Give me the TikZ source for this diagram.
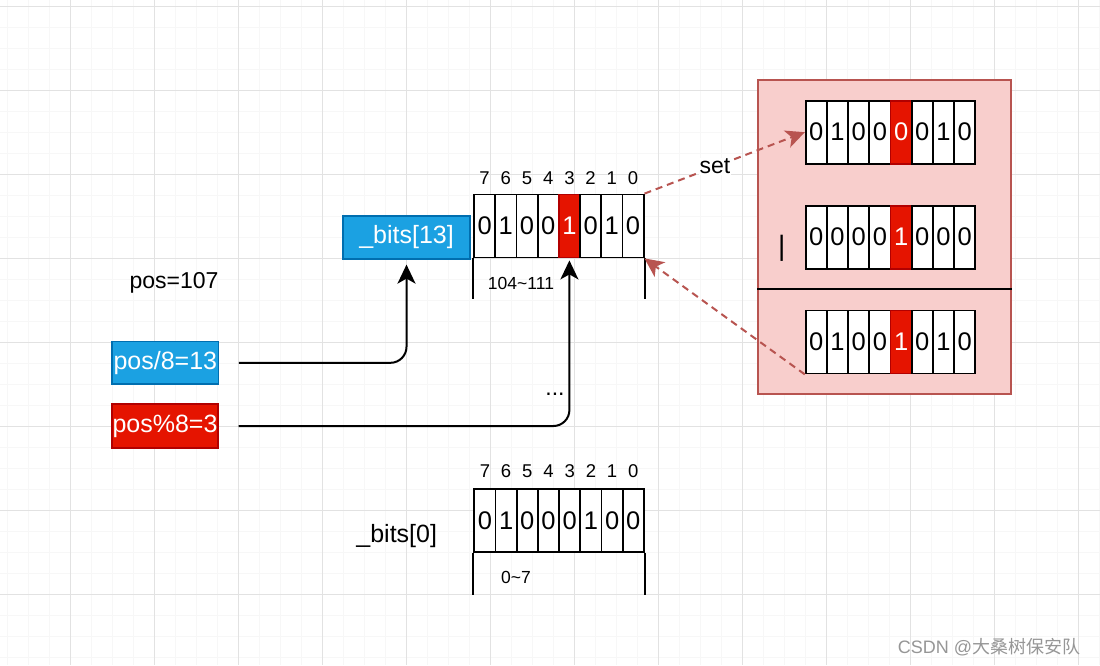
\documentclass[tikz,border=0pt]{standalone}
\usepackage{fontspec}
\setmainfont{Liberation Sans}
\newfontfamily\cjk{Noto Sans CJK SC}
\usetikzlibrary{arrows.meta,positioning}
\definecolor{gridmajor}{RGB}{226,226,226}
\definecolor{gridminor}{RGB}{247,247,247}
\definecolor{bitblue}{HTML}{1BA1E2}
\definecolor{blueline}{HTML}{006EAF}
\definecolor{bitred}{HTML}{E51400}
\definecolor{redline}{HTML}{B20000}
\definecolor{pinkfill}{HTML}{F8CECC}
\definecolor{pinkline}{HTML}{B85450}
\definecolor{markgray}{RGB}{150,150,150}
\tikzset{cell/.style={draw, line width=1.8pt, fill=white, minimum width=21.2pt, minimum height=63pt, inner sep=0pt, font=\fontsize{25.5}{28}\selectfont},
	redcell/.style={cell, fill=bitred, draw=redline, text=white},
	idx/.style={inner sep=0pt, font=\fontsize{18.5}{20}\selectfont},
	bluebox/.style={draw=blueline, fill=bitblue, line width=1.2pt, text=white, inner sep=0pt, font=\fontsize{25}{28}\selectfont},
	redbox/.style={bluebox, draw=redline, fill=bitred},
	plaintxt/.style={inner sep=0pt, font=\fontsize{23}{26}\selectfont},
	rangetxt/.style={inner sep=0pt, font=\fontsize{17.5}{20}\selectfont},
	wire/.style={line width=2pt},
	pointer/.style={line width=2pt, rounded corners=16pt, -{Stealth[length=19pt,width=18pt,inset=5pt]}},
	setlink/.style={pinkline, line width=2pt, dash pattern=on 7pt off 5pt, -{Stealth[length=19pt,width=18pt,inset=5pt]}},
	panel/.style={draw=pinkline, fill=pinkfill, line width=1.8pt, minimum width=252.4pt, minimum height=314pt, inner sep=0pt}}
% #1 name, #2 left x, #3 centre y, #4 red cell, #5 bits
\newcommand{\bitrow}[5]{%
	\foreach \v [count=\i] in {#5}{
		\ifnum\i=#4\relax
		\node[redcell] (#1-\i) at ({#2+21.2*\i-10.6},#3) {\v};
		\else
		\node[cell] (#1-\i) at ({#2+21.2*\i-10.6},#3) {\v};
		\fi
	}}

\begin{document}
\begin{tikzpicture}[x=1pt,y=-1pt]
	\useasboundingbox (0,0) rectangle (1100,665);
	\fill[white] (0,0) rectangle (1100,665);
	% grid
	\foreach \x in {7,28,...,1099} \draw[gridminor,line width=1pt] (\x,0) -- (\x,665);
	\foreach \y in {6,27,...,657} \draw[gridminor,line width=1pt] (0,\y) -- (1100,\y);
	\foreach \x in {70,154,...,1078} \draw[gridmajor,line width=1pt] (\x,0) -- (\x,665);
	\foreach \y in {6,90,...,594} \draw[gridmajor,line width=1pt] (0,\y) -- (1100,\y);
	% right panel
	\node[panel] (panel) at (884.5,237) {};
	\coordinate (split) at (0,289.3);
	\draw[wire] (panel.west |- split) -- (panel.east |- split);
	\node[plaintxt, font=\fontsize{28}{30}\selectfont] (orsign) at (781.7,248) {|};
	% registers
	\bitrow{mid}{474}{226}{5}{0,1,0,0,1,0,1,0}
	\bitrow{low}{474.3}{520.3}{0}{0,1,0,0,0,1,0,0}
	\bitrow{ra}{805.7}{132.2}{5}{0,1,0,0,0,0,1,0}
	\bitrow{rb}{805.7}{237.2}{5}{0,0,0,0,1,0,0,0}
	\bitrow{rc}{805.7}{342}{5}{0,1,0,0,1,0,1,0}
	\foreach \b [count=\i] in {7,6,...,0}{
		\node[idx, above=9pt of mid-\i] (midbit-\i) {\b};
		\node[idx, above=10pt of low-\i] (lowbit-\i) {\b};
	}
	\draw[wire] (mid-1.south west) -- ++(0,41);
	\draw[wire] (mid-8.south east) -- ++(0,41);
	\draw[wire] (low-1.south west) -- ++(0,42);
	\draw[wire] (low-8.south east) -- ++(0,42);
	\node[rangetxt] (midrange) at (521,283.5) {104\textasciitilde111};
	\node[rangetxt] (lowrange) at (516,577.7) {0\textasciitilde7};
	% labels and boxes
	\node[bluebox, minimum width=127pt, minimum height=43pt] (b13) at (406.5,237.5) {\_bits[13]};
	\node[plaintxt, font=\fontsize{25}{28}\selectfont] (b0) at (396.7,536) {\_bits[0]};
	\node[plaintxt] (pos) at (174,283) {pos=107};
	\node[bluebox, minimum width=106.7pt, minimum height=42.3pt] (p8) at (165.3,362.8) {pos/8=13};
	\node[redbox, minimum width=106pt, minimum height=44pt] (pm) at (165,426) {pos\%8=3};
	\node[plaintxt, anchor=base] (dots) at (555,395) {...};
	% pointers
	\coordinate (p8out) at ([xshift=19.5pt]p8.east);
	\coordinate (pmout) at ([xshift=20pt]pm.east);
	\draw[pointer, shorten >=5pt] (p8out) -| (b13.south);
	\draw[pointer, shorten >=2pt] (pmout) -| (mid-5.south);
	\draw[setlink] (mid-8.north east) -- node[plaintxt, fill=white, inner sep=1pt, pos=0.44, text=black] (setlbl) {set} (ra-1.west);
	\draw[setlink] (rc-1.south west) -- (mid-8.south east);
	% watermark
	\node[markgray, inner sep=0pt, font=\fontsize{18}{20}\selectfont] (mark) at (989,647) {CSDN @{\cjk 大桑树保安队}};
\end{tikzpicture}
\end{document}
